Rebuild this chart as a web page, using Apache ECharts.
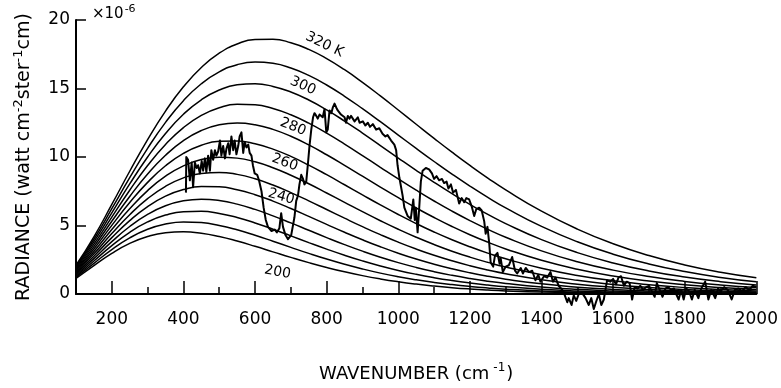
<!DOCTYPE html>
<html>
<head>
<meta charset="utf-8">
<script src="https://cdn.jsdelivr.net/npm/echarts@6/dist/echarts.min.js"></script>
<style>
  html, body { margin: 0; padding: 0; background: #fff; }
  #chart { width: 781px; height: 388px; }
</style>
</head>
<body>
<div id="chart"></div>
<script>
// Wavenumber grid (cm^-1) for the blackbody curves
const wavenumbers = [100, 150, 200, 250, 300, 350, 400, 450, 500, 550, 600, 650, 700, 750, 800, 850,
  900, 950, 1000, 1050, 1100, 1150, 1200, 1250, 1300, 1400, 1500, 1600, 1700, 1800, 1900, 2000];

// Blackbody radiance, units of 1e-6 watt cm^-2 ster^-1 (cm^-1)^-1
const t200 = [1.131, 2.070, 2.963, 3.692, 4.201, 4.479, 4.545, 4.437, 4.195, 3.864, 3.481, 3.076, 2.673, 2.290, 1.937, 1.620, 1.341, 1.100, 0.895, 0.723, 0.580, 0.463, 0.367, 0.289, 0.227, 0.138, 0.083, 0.049, 0.029, 0.017, 0.009, 0.005];
const t210 = [1.210, 2.240, 3.245, 4.095, 4.722, 5.106, 5.259, 5.212, 5.006, 4.684, 4.288, 3.852, 3.404, 2.965, 2.550, 2.169, 1.827, 1.524, 1.262, 1.037, 0.846, 0.686, 0.553, 0.444, 0.355, 0.223, 0.138, 0.085, 0.051, 0.031, 0.018, 0.011];
const t220 = [1.290, 2.411, 3.531, 4.507, 5.261, 5.761, 6.011, 6.039, 5.882, 5.584, 5.187, 4.729, 4.242, 3.751, 3.276, 2.829, 2.419, 2.050, 1.723, 1.438, 1.192, 0.982, 0.804, 0.655, 0.532, 0.345, 0.221, 0.139, 0.087, 0.054, 0.033, 0.020];
const t230 = [1.370, 2.584, 3.820, 4.927, 5.814, 6.440, 6.800, 6.916, 6.822, 6.561, 6.175, 5.705, 5.188, 4.651, 4.118, 3.606, 3.127, 2.687, 2.291, 1.939, 1.630, 1.362, 1.131, 0.935, 0.769, 0.514, 0.338, 0.220, 0.141, 0.089, 0.056, 0.035];
const t240 = [1.450, 2.758, 4.113, 5.354, 6.380, 7.141, 7.622, 7.839, 7.822, 7.611, 7.250, 6.781, 6.242, 5.667, 5.081, 4.506, 3.957, 3.445, 2.975, 2.550, 2.172, 1.838, 1.547, 1.296, 1.080, 0.740, 0.500, 0.333, 0.219, 0.143, 0.092, 0.059];
const t250 = [1.531, 2.932, 4.408, 5.788, 6.959, 7.862, 8.475, 8.804, 8.877, 8.731, 8.408, 7.952, 7.403, 6.798, 6.166, 5.533, 4.916, 4.330, 3.783, 3.282, 2.828, 2.422, 2.063, 1.749, 1.475, 1.036, 0.716, 0.489, 0.330, 0.220, 0.146, 0.096];
const t260 = [1.612, 3.108, 4.707, 6.227, 7.549, 8.602, 9.356, 9.810, 9.986, 9.918, 9.647, 9.217, 8.670, 8.045, 7.375, 6.689, 6.007, 5.349, 4.725, 4.143, 3.610, 3.126, 2.692, 2.307, 1.967, 1.412, 0.999, 0.697, 0.481, 0.328, 0.222, 0.149];
const t270 = [1.692, 3.284, 5.007, 6.672, 8.149, 9.359, 10.263, 10.853, 11.144, 11.168, 10.963, 10.573, 10.041, 9.407, 8.708, 7.975, 7.234, 6.505, 5.804, 5.142, 4.525, 3.958, 3.444, 2.981, 2.568, 1.882, 1.358, 0.967, 0.681, 0.474, 0.327, 0.224];
const t280 = [1.773, 3.461, 5.309, 7.121, 8.758, 10.131, 11.194, 11.930, 12.349, 12.478, 12.353, 12.017, 11.512, 10.882, 10.164, 9.394, 8.600, 7.805, 7.028, 6.284, 5.583, 4.930, 4.329, 3.783, 3.290, 2.457, 1.807, 1.312, 0.941, 0.668, 0.470, 0.328];
const t290 = [1.854, 3.639, 5.614, 7.575, 9.376, 10.918, 12.147, 13.039, 13.598, 13.845, 13.813, 13.544, 13.081, 12.467, 11.742, 10.943, 10.103, 9.248, 8.400, 7.576, 6.789, 6.047, 5.358, 4.722, 4.143, 3.149, 2.357, 1.742, 1.272, 0.919, 0.658, 0.467];
const t300 = [1.935, 3.817, 5.920, 8.033, 10.001, 11.718, 13.120, 14.178, 14.887, 15.265, 15.340, 15.152, 14.744, 14.159, 13.439, 12.624, 11.747, 10.838, 9.923, 9.022, 8.151, 7.320, 6.537, 5.810, 5.139, 3.970, 3.022, 2.269, 1.685, 1.238, 0.901, 0.651];
const t310 = [2.017, 3.996, 6.228, 8.494, 10.633, 12.530, 14.113, 15.345, 16.215, 16.734, 16.930, 16.838, 16.499, 15.957, 15.254, 14.433, 13.529, 12.576, 11.600, 10.626, 9.672, 8.751, 7.876, 7.053, 6.287, 4.932, 3.811, 2.907, 2.192, 1.635, 1.209, 0.887];
const t320 = [2.098, 4.175, 6.537, 8.959, 11.272, 13.353, 15.124, 16.537, 17.579, 18.253, 18.582, 18.598, 18.342, 17.856, 17.185, 16.370, 15.450, 14.460, 13.432, 12.391, 11.358, 10.350, 9.381, 8.461, 7.596, 6.045, 4.739, 3.667, 2.805, 2.124, 1.593, 1.185];

const temperatures = [200, 210, 220, 230, 240, 250, 260, 270, 280, 290, 300, 310, 320];
const blackbodyCurves = [t200, t210, t220, t230, t240, t250, t260, t270, t280, t290, t300, t310, t320];

// Measured emission spectrum
const specWavenumber = [407, 408, 413, 418, 423, 427, 432, 437, 441, 446, 451, 455, 460, 464, 469, 474, 478, 483, 488, 492,
  497, 502, 506, 511, 516, 520, 525, 529, 534, 539, 543, 548, 553, 557, 562, 567, 571, 576, 581, 585,
  590, 594, 599, 606, 611, 618, 624, 630, 636, 646, 655, 661, 668, 673, 678, 685, 692, 701, 710, 715,
  720, 724, 729, 734, 738, 743, 748, 752, 757, 762, 766, 771, 775, 780, 785, 789, 794, 799, 803, 808,
  813, 817, 822, 827, 831, 836, 840, 845, 850, 854, 859, 864, 868, 878, 887, 892, 901, 908, 915, 921,
  929, 938, 947, 956, 964, 970, 980, 989, 994, 998, 1003, 1012, 1017, 1026, 1035, 1042, 1046, 1049, 1054, 1058,
  1063, 1068, 1077, 1086, 1094, 1100, 1107, 1114, 1122, 1128, 1135, 1140, 1147, 1153, 1161, 1170, 1177, 1184, 1190, 1198,
  1205, 1212, 1218, 1226, 1233, 1240, 1244, 1249, 1254, 1258, 1265, 1270, 1277, 1283, 1286, 1292, 1300, 1309, 1318, 1326,
  1332, 1342, 1348, 1356, 1365, 1374, 1383, 1391, 1397, 1407, 1416, 1425, 1432, 1439, 1448, 1458, 1465, 1472, 1476, 1484,
  1490, 1497, 1504, 1513, 1523, 1532, 1539, 1546, 1552, 1560, 1567, 1574, 1583, 1592, 1600, 1608, 1615, 1622, 1630, 1638,
  1646, 1653, 1660, 1668, 1676, 1684, 1692, 1700, 1708, 1716, 1722, 1730, 1738, 1746, 1754, 1762, 1770, 1776, 1783, 1790,
  1797, 1804, 1812, 1820, 1828, 1838, 1846, 1857, 1866, 1874, 1885, 1893, 1900, 1910, 1920, 1931, 1940, 1950, 1960, 1970,
  1980, 1990, 2000];
const specRadiance = [7.4, 10.0, 9.8, 8.3, 9.6, 7.8, 9.6, 9.2, 9.4, 8.8, 9.7, 9.0, 9.9, 8.9, 10.1, 9.0, 10.5, 9.8, 10.5, 10.1,
  10.4, 11.2, 10.1, 10.8, 9.9, 10.6, 11.0, 10.2, 11.5, 10.5, 11.2, 10.2, 10.8, 11.5, 11.8, 10.3, 11.1, 10.7, 10.9, 10.3,
  10.1, 9.4, 8.8, 8.7, 8.3, 7.5, 6.3, 5.4, 4.9, 4.6, 4.7, 4.5, 4.8, 5.9, 4.9, 4.3, 4.0, 4.3, 5.6, 6.8,
  7.2, 8.0, 8.7, 8.4, 8.0, 8.2, 9.6, 10.8, 12.0, 12.9, 13.2, 13.0, 12.8, 13.1, 13.2, 12.9, 13.5, 11.8, 12.0, 13.4,
  13.2, 13.6, 13.9, 13.6, 13.4, 13.5, 13.1, 13.2, 12.9, 12.5, 13.0, 12.8, 13.0, 12.6, 12.9, 12.5, 12.6, 12.3, 12.5, 12.2,
  12.4, 12.0, 12.1, 11.7, 11.5, 11.6, 11.2, 10.9, 10.5, 9.4, 8.5, 7.2, 6.3, 5.7, 5.5, 6.9, 5.4, 6.3, 4.5, 6.1,
  8.2, 9.0, 9.2, 9.1, 8.8, 8.4, 8.6, 8.3, 8.4, 8.1, 8.2, 7.7, 8.0, 7.4, 7.6, 6.6, 7.0, 6.7, 7.0, 6.9,
  6.4, 5.7, 6.2, 6.3, 6.1, 5.3, 4.4, 4.9, 3.7, 2.3, 2.0, 2.8, 3.0, 2.2, 2.6, 1.6, 2.0, 2.1, 2.7, 1.7,
  1.5, 1.9, 1.5, 1.9, 1.6, 1.7, 1.0, 1.4, 0.9, 1.3, 1.2, 1.6, 0.9, 1.2, 0.6, 0.3, -0.1, -0.6, -0.3, -0.8,
  -0.1, -0.5, 0.0, 0.1, -0.3, -0.8, -0.3, -1.1, -0.6, 0.0, -0.8, -0.4, 1.0, 0.9, 1.1, 0.7, 1.2, 1.3, 0.6, 0.9,
  0.8, -0.4, 0.5, 0.4, 0.6, 0.3, 0.5, 0.6, 0.2, -0.2, 0.8, 0.3, -0.2, 0.4, 0.5, 0.3, 0.4, 0.0, -0.4, 0.3,
  -0.4, 0.4, 0.2, -0.4, 0.3, -0.3, 0.4, 0.9, -0.4, 0.3, -0.3, 0.4, 0.2, 0.5, 0.3, -0.4, 0.3, 0.4, 0.2, 0.5,
  0.3, 0.6, 0.5];

// Axis ticks
const xMajorTicks = [200, 400, 600, 800, 1000, 1200, 1400, 1600, 1800, 2000];
const xMinorTicks = [300, 500, 700, 900, 1100, 1300, 1500, 1700, 1900];

// Temperature labels written along the curves
const curveLabelText = ['320 K', '300', '280', '260', '240', '200'];
const curveLabelWn = [794, 734, 706, 683, 673, 663];
const curveLabelRad = [18.2, 15.2, 12.2, 9.6, 7.1, 1.6];
const curveLabelAngle = [-26, -24, -22, -20, -16, -10];

const FONT = 'DejaVu Sans';
const INK = '#000';

const chart = echarts.init(document.getElementById('chart'), null, { renderer: 'canvas' });

const series = blackbodyCurves.map((vals, k) => ({
  name: temperatures[k] + ' K',
  type: 'line',
  smooth: true,
  showSymbol: false,
  silent: true,
  data: wavenumbers.map((w, i) => [w, vals[i]]),
  lineStyle: { color: INK, width: 1.5 },
  z: 2
}));

series.push({
  name: 'spectrum',
  type: 'line',
  showSymbol: false,
  clip: false,
  silent: true,
  data: specWavenumber.map((w, i) => [w, specRadiance[i]]),
  lineStyle: { color: INK, width: 2, join: 'round' },
  z: 3
});

series.push({
  name: 'labels',
  type: 'scatter',
  symbolSize: 0,
  silent: true,
  itemStyle: { opacity: 1 },
  data: curveLabelText.map((t, i) => ({
    name: t,
    value: [curveLabelWn[i], curveLabelRad[i]],
    label: { rotate: curveLabelAngle[i] }
  })),
  label: {
    show: true,
    position: 'inside',
    formatter: p => p.name,
    fontFamily: FONT,
    fontSize: 14,
    color: INK,
    opacity: 1
  },
  z: 4
});

const option = {
  animation: false,
  backgroundColor: '#fff',
  grid: { left: 76, right: 23, top: 20, bottom: 85, containLabel: false },
  xAxis: [
    {
      type: 'value',
      min: 100,
      max: 2000,
      position: 'bottom',
      axisLine: { lineStyle: { color: INK, width: 2 } },
      axisTick: { inside: true, length: 13, customValues: xMajorTicks, lineStyle: { color: INK, width: 1.5 } },
      axisLabel: { customValues: xMajorTicks, margin: 17, fontFamily: FONT, fontSize: 17, color: INK, formatter: v => String(v) },
      splitLine: { show: false },
      name: '{a|WAVENUMBER (cm}{s|-1}{a|)}',
      nameLocation: 'middle',
      nameGap: 68,
      nameTextStyle: {
        rich: {
          a: { fontFamily: FONT, fontSize: 18, color: INK, lineHeight: 24 },
          s: { fontFamily: FONT, fontSize: 12, color: INK, lineHeight: 24, verticalAlign: 'top', padding: [0, 1, 0, 4] }
        }
      }
    },
    {
      type: 'value',
      min: 100,
      max: 2000,
      position: 'bottom',
      axisLine: { show: false },
      axisTick: { inside: true, length: 7, customValues: xMinorTicks, lineStyle: { color: INK, width: 1.5 } },
      axisLabel: { show: false },
      splitLine: { show: false }
    }
  ],
  yAxis: {
    type: 'value',
    min: 0,
    max: 20,
    interval: 5,
    axisLine: { show: true, lineStyle: { color: INK, width: 2 } },
    axisTick: { show: true, inside: true, length: 10, lineStyle: { color: INK, width: 1.5 } },
    axisLabel: { margin: 6, fontFamily: FONT, fontSize: 17, color: INK },
    splitLine: { show: false },
    name: '{a|RADIANCE (watt cm}{s|-2}{a|ster}{s|-1}{a|cm)}',
    nameLocation: 'middle',
    nameRotate: 90,
    nameGap: 40,
    nameTextStyle: {
      rich: {
        a: { fontFamily: FONT, fontSize: 19, color: INK, lineHeight: 24 },
        s: { fontFamily: FONT, fontSize: 13, color: INK, lineHeight: 24, verticalAlign: 'top' }
      }
    }
  },
  graphic: [
    {
      type: 'text',
      left: 92,
      top: 4,
      style: {
        text: '{a|×10}{s|-6}',
        rich: {
          a: { fontFamily: FONT, fontSize: 15, fill: INK, lineHeight: 20 },
          s: { fontFamily: FONT, fontSize: 11, fill: INK, lineHeight: 20, verticalAlign: 'top', padding: [0, 0, 0, 1] }
        }
      }
    }
  ],
  series: series
};

chart.setOption(option);
</script>
</body>
</html>
